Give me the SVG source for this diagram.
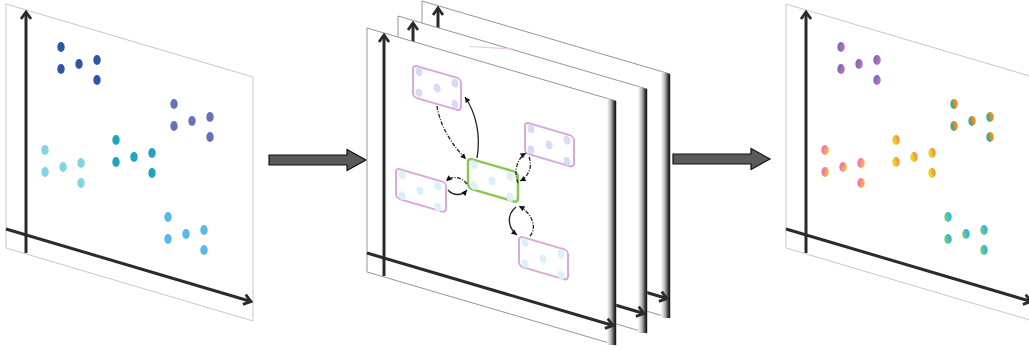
<svg xmlns="http://www.w3.org/2000/svg" width="1029" height="351" viewBox="0 0 1029 351">
<style>
.pl{fill:#fff;stroke:#c8c8c8;stroke-width:1}
.pm{fill:#fff;stroke:#8a8a8a;stroke-width:0.9}
.ax{stroke:#2b2b2b;stroke-width:3;fill:none}
.nd{fill:#fff;stroke:#d9a9d9;stroke-width:2}
.nc{fill:#fff;stroke:#8cc850;stroke-width:2.5}
.dl{fill:#d9dbf4}
.db{fill:#dcf0fb}
.cn{fill:none;stroke:#222;stroke-width:1.3;marker-end:url(#ah)}
.dash{stroke-dasharray:4 1.5 1 1.5}
.big{fill:#5a5a5a;stroke:#111;stroke-width:1.2}
.c1{fill:#2f55a8}.c2{fill:#6673ba}.c3{fill:#80d6e1}.c4{fill:#20a4bf}.c5{fill:#5cb7ea}
</style>
<defs>
<marker id="ah" viewBox="-6 -4 7 8" markerWidth="7" markerHeight="8" refX="0" refY="0" orient="auto" markerUnits="userSpaceOnUse">
<path d="M0,0 L-5.5,-2.8 L-5.5,2.8 z" fill="#111"/>
</marker>
<marker id="axm" viewBox="-10 -7 12 14" markerWidth="12" markerHeight="14" refX="0" refY="0" orient="auto" markerUnits="userSpaceOnUse">
<path d="M-7,-5 L0,0 L-7,5" fill="none" stroke="#2b2b2b" stroke-width="2.8"/>
</marker>
<linearGradient id="band" x1="0" y1="0" x2="1" y2="0">
<stop offset="0" stop-color="#fff"/><stop offset="0.45" stop-color="#b0b0b0"/><stop offset="0.8" stop-color="#3a3a3a"/><stop offset="1" stop-color="#111"/>
</linearGradient>
<linearGradient id="g1" x1="0" y1="0.3" x2="1" y2="0.7"><stop offset="0.3" stop-color="#7d6cc2"/><stop offset="0.7" stop-color="#b56db6"/></linearGradient>
<linearGradient id="g2" x1="0" y1="0.7" x2="1" y2="0.3"><stop offset="0.35" stop-color="#43a88e"/><stop offset="0.6" stop-color="#ee8a24"/></linearGradient>
<linearGradient id="g3" x1="0" y1="0.3" x2="1" y2="0.7"><stop offset="0.3" stop-color="#f478b4"/><stop offset="0.75" stop-color="#f9b23a"/></linearGradient>
<linearGradient id="g4" x1="0" y1="0.7" x2="1" y2="0.3"><stop offset="0.3" stop-color="#e6d52c"/><stop offset="0.7" stop-color="#f79a3a"/></linearGradient>
<linearGradient id="g5" x1="0" y1="0.7" x2="1" y2="0.3"><stop offset="0.3" stop-color="#6ccb7c"/><stop offset="0.65" stop-color="#34b6ec"/></linearGradient>
<g id="cl"><ellipse cx="0" cy="0" rx="3.7" ry="5"/><ellipse cx="0" cy="22" rx="3.7" ry="5"/><ellipse cx="18" cy="17" rx="3.7" ry="5"/><ellipse cx="36" cy="13" rx="3.7" ry="5"/><ellipse cx="36" cy="33" rx="3.7" ry="5"/></g>
<g id="nd"><ellipse cx="6" cy="5" rx="3.5" ry="4.3"/><ellipse cx="6" cy="26" rx="3.5" ry="4.3"/><ellipse cx="24" cy="16" rx="3.5" ry="4.3"/><ellipse cx="42" cy="6" rx="3.5" ry="4.3"/><ellipse cx="42" cy="27" rx="3.5" ry="4.3"/></g>
</defs>
<rect width="1029" height="351" fill="#fff"/>

<!-- Left panel -->
<g id="panel-input">
<polygon class="pl" points="6,4 253,77 253,321 6,248"/>
<line class="ax" x1="26" y1="253" x2="26" y2="12" marker-end="url(#axm)"/>
<line class="ax" x1="6" y1="229" x2="251" y2="301.5" marker-end="url(#axm)"/>
<use href="#cl" x="61" y="47" class="c1"/>
<use href="#cl" x="174" y="104" class="c2"/>
<use href="#cl" x="45" y="150" class="c3"/>
<use href="#cl" x="116" y="140" class="c4"/>
<use href="#cl" x="168" y="217" class="c5"/>
</g>

<g id="arrow-1"><polygon class="big" points="269,155 347,155 347,149.5 366,160 347,170.5 347,165 269,165"/></g>
<g id="arrow-2"><polygon class="big" points="673,154 751,154 751,148.5 770,159 751,169.5 751,164 673,164"/></g>

<!-- Middle stacked panels -->
<g id="panel-back3">
<polygon class="pm" points="422,1 670,74 670,318 422,245"/>
<polygon points="661,71.4 670,74 670,318 661,318" fill="url(#band)"/>
<line class="ax" x1="438" y1="250" x2="438" y2="8" marker-end="url(#axm)"/>
<line class="ax" x1="422" y1="226" x2="667" y2="298.5" marker-end="url(#axm)"/>
</g>
<g id="panel-back2">
<polygon class="pm" points="398,16 647,89 647,333 398,260"/>
<path d="M470,46.5 L513,49" stroke="#e4c8e4" stroke-width="1.2" fill="none"/>
<polygon points="638,86.4 647,89 647,333 638,333" fill="url(#band)"/>
<line class="ax" x1="413" y1="265" x2="413" y2="23" marker-end="url(#axm)"/>
<line class="ax" x1="398" y1="241" x2="644" y2="313.5" marker-end="url(#axm)"/>
</g>
<g id="panel-front">
<polygon class="pm" points="367,28 616,101 616,345 367,272"/>
<polygon points="607,98.4 616,101 616,345 607,345" fill="url(#band)"/>
<line class="ax" x1="384" y1="276" x2="384" y2="35" marker-end="url(#axm)"/>
<line class="ax" x1="367" y1="253" x2="613" y2="325.5" marker-end="url(#axm)"/>
</g>

<g id="node-tl" transform="translate(413,65) skewY(16.3)"><rect class="nd" x="0" y="0" width="48" height="32" rx="4"/><use href="#nd" class="dl"/></g>
<g id="node-r" transform="translate(525,122) skewY(16.3)"><rect class="nd" x="0" y="0" width="49" height="31" rx="4"/><use href="#nd" class="dl"/></g>
<g id="node-l" transform="translate(396,168) skewY(16.3)"><rect class="nd" x="0" y="0" width="50" height="30" rx="4"/><use href="#nd" class="db"/></g>
<g id="node-c" transform="translate(468,158) skewY(16.3)"><rect class="nc" x="0" y="0" width="50" height="30" rx="4"/><use href="#nd" class="db"/></g>
<g id="node-b" transform="translate(519,236) skewY(16.3)"><rect class="nd" x="0" y="0" width="49" height="30" rx="4"/><use href="#nd" class="db"/></g>

<g id="connectors">
<path class="cn dash" d="M437,106 C441,130 455,148 466,159"/>
<path class="cn" d="M477,158 C481,135 476,113 465,97"/>
<path class="cn dash" d="M518,183 C513,170 518,158 526,153"/>
<path class="cn dash" d="M529,157 C533,167 528,177 520,181"/>
<path class="cn dash" d="M467,184 C461,176 452,176 446,181"/>
<path class="cn" d="M448,190 C453,196 462,196 467,190"/>
<path class="cn" d="M516,207 C506,215 508,228 517,235"/>
<path class="cn dash" d="M530,236 C537,228 533,214 519,206"/>
</g>

<!-- Right panel -->
<g id="panel-output">
<polygon class="pl" points="786,4 1033,77 1033,321 786,248"/>
<line class="ax" x1="806" y1="253" x2="806" y2="12" marker-end="url(#axm)"/>
<line class="ax" x1="786" y1="229" x2="1031" y2="301.5" marker-end="url(#axm)"/>
<use href="#cl" x="841" y="47" fill="url(#g1)"/>
<use href="#cl" x="954" y="104" fill="url(#g2)"/>
<use href="#cl" x="825" y="150" fill="url(#g3)"/>
<use href="#cl" x="896" y="140" fill="url(#g4)"/>
<use href="#cl" x="948" y="217" fill="url(#g5)"/>
</g>
</svg>
